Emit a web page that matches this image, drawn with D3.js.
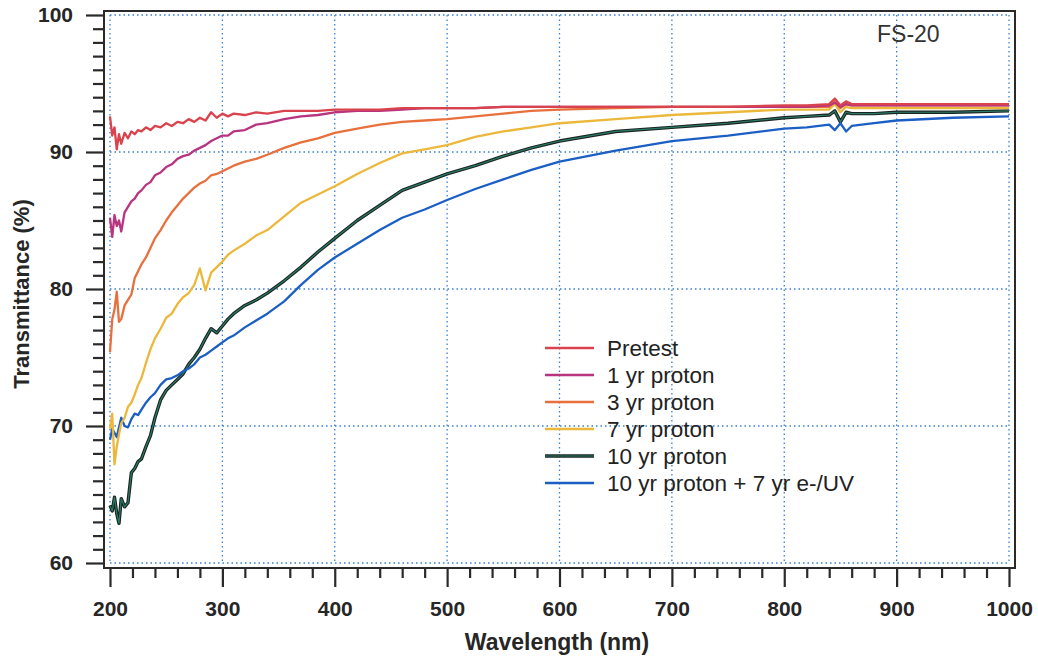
<!DOCTYPE html>
<html><head><meta charset="utf-8">
<script src="https://cdn.jsdelivr.net/npm/d3@7"></script>
<style>
body{margin:0;background:#fff;}
svg{display:block;font-family:"Liberation Sans",Arial,sans-serif;}
</style></head>
<body><svg id="c" width="1038" height="657"></svg>
<script>
const wavelengths = [200,202,204,206,208,210,213,216,219,222,225,228,232,236,240,245,250,255,260,265,270,275,280,285,290,295,300,305,310,320,330,340,355,370,385,400,420,440,460,480,500,525,550,575,600,650,700,750,800,820,840,845,850,855,860,880,900,950,1000];
const pretest = [92.6,91.2,91.8,90.2,91.3,90.6,91.4,91.0,91.5,91.3,91.6,91.5,91.8,91.6,91.9,91.8,92.1,91.9,92.2,92.1,92.4,92.2,92.5,92.3,92.9,92.5,92.8,92.6,92.8,92.7,92.9,92.8,93.0,93.0,93.0,93.1,93.1,93.1,93.2,93.2,93.2,93.2,93.3,93.3,93.3,93.3,93.3,93.3,93.4,93.4,93.5,93.9,93.4,93.7,93.5,93.5,93.5,93.5,93.5];
const proton1 = [85.2,83.8,85.4,84.6,85.0,84.2,85.6,86.0,86.4,86.6,87.0,87.2,87.6,87.8,88.3,88.5,88.9,89.1,89.5,89.7,89.8,90.1,90.3,90.5,90.8,91.0,91.2,91.2,91.5,91.6,92.0,92.1,92.4,92.6,92.7,92.9,93.0,93.0,93.1,93.2,93.2,93.2,93.3,93.3,93.3,93.3,93.3,93.3,93.3,93.3,93.4,93.6,93.3,93.5,93.4,93.4,93.4,93.4,93.4];
const proton3 = [75.4,77.8,78.5,79.8,77.6,77.8,78.8,79.2,79.6,80.8,81.3,81.8,82.3,83.0,83.7,84.3,85.0,85.6,86.1,86.6,87.0,87.4,87.7,87.9,88.3,88.4,88.6,88.8,89.0,89.3,89.5,89.8,90.3,90.7,91.0,91.4,91.7,92.0,92.2,92.3,92.4,92.6,92.8,93.0,93.1,93.2,93.3,93.3,93.3,93.3,93.3,93.7,93.2,93.5,93.4,93.4,93.4,93.4,93.4];
const proton7 = [69.8,70.9,67.2,68.5,69.4,70.2,70.6,71.4,71.7,72.3,73.0,73.5,74.6,75.6,76.4,77.1,77.9,78.2,78.9,79.4,79.7,80.3,81.5,79.9,81.2,81.6,82.0,82.5,82.8,83.3,83.9,84.3,85.3,86.3,86.9,87.5,88.4,89.2,89.9,90.2,90.5,91.1,91.5,91.8,92.1,92.4,92.7,92.9,93.1,93.1,93.1,93.5,92.9,93.3,93.2,93.2,93.2,93.2,93.2];
const proton10 = [64.2,63.8,64.8,63.6,62.9,64.7,64.1,64.4,66.6,66.9,67.4,67.6,68.5,69.3,70.6,71.9,72.6,73.0,73.4,73.8,74.5,75.0,75.6,76.4,77.1,76.8,77.3,77.8,78.2,78.8,79.2,79.7,80.6,81.6,82.7,83.7,85.0,86.1,87.2,87.8,88.4,89.0,89.7,90.3,90.8,91.5,91.8,92.1,92.5,92.6,92.7,93.0,92.2,92.9,92.8,92.8,92.9,92.9,93.0];
const proton10uv = [69.0,69.8,69.5,69.2,69.9,70.6,70.0,69.9,70.5,70.9,70.8,71.2,71.7,72.1,72.4,73.0,73.4,73.5,73.7,74.0,74.2,74.5,75.0,75.2,75.5,75.8,76.1,76.4,76.6,77.2,77.7,78.2,79.1,80.3,81.4,82.3,83.3,84.3,85.2,85.8,86.5,87.3,88.0,88.7,89.3,90.1,90.8,91.2,91.7,91.8,92.0,91.6,92.1,91.5,91.9,92.1,92.3,92.5,92.6];
const seriesNames = ["Pretest","1 yr proton","3 yr proton","7 yr proton","10 yr proton","10 yr proton + 7 yr e-/UV"];
const seriesValues = [pretest, proton1, proton3, proton7, proton10, proton10uv];
const seriesColors = ["#d9434e","#b8347f","#e8703c","#ebb83c","#2a7a68","#1b5fc4"];
const xTicks = [200,300,400,500,600,700,800,900,1000];
const yTicks = [60,70,80,90,100];

const svg = d3.select("#c");
const x = d3.scaleLinear().domain([200,1000]).range([110,1009]);
const y = d3.scaleLinear().domain([60,100]).range([563,15]);
const gridColor = "#3a7fd2";

// grid
const grid = svg.append("g");
grid.selectAll("line.gx").data(xTicks).join("line")
  .attr("x1",d=>x(d)).attr("x2",d=>x(d)).attr("y1",y(100)).attr("y2",y(60))
  .attr("stroke",gridColor).attr("stroke-width",1.3).attr("stroke-dasharray","1.5,3");
grid.selectAll("line.gy").data(yTicks).join("line")
  .attr("y1",d=>y(d)).attr("y2",d=>y(d)).attr("x1",x(200)).attr("x2",x(1000))
  .attr("stroke",gridColor).attr("stroke-width",1.3).attr("stroke-dasharray","1.5,3");

// frame
svg.append("rect").attr("x",104).attr("y",11).attr("width",911).attr("height",557)
  .attr("fill","none").attr("stroke","#2a2a2a").attr("stroke-width",2);

// axes
const yMinor = d3.range(61,100).filter(v=>v%10!==0);
const xMinor = d3.range(220,1000,20).filter(v=>v%100!==0);
function styleAxis(g){
  g.select(".domain").remove();
  g.selectAll(".tick line").attr("stroke","#2a2a2a").attr("stroke-width",2.2);
  g.selectAll(".tick text").attr("fill","#262626").attr("font-size","21px").attr("font-weight","bold")
    .attr("font-family","'Liberation Sans',Arial,sans-serif");
}
svg.append("g").attr("transform","translate(104,0)")
  .call(d3.axisLeft(y).tickValues(yTicks).tickSize(18).tickPadding(13).tickFormat(d3.format("d")))
  .call(styleAxis);
svg.append("g").attr("transform","translate(104,0)")
  .call(d3.axisLeft(y).tickValues(yMinor).tickSize(11).tickFormat(""))
  .call(styleAxis);
svg.append("g").attr("transform","translate(0,568)")
  .call(d3.axisBottom(x).tickValues(xTicks).tickSize(19).tickPadding(14).tickFormat(d3.format("d")))
  .call(styleAxis);
svg.append("g").attr("transform","translate(0,568)")
  .call(d3.axisBottom(x).tickValues(xMinor).tickSize(10).tickFormat(""))
  .call(styleAxis);

// titles
svg.append("text").attr("x",557).attr("y",650).attr("text-anchor","middle")
  .attr("font-size","23px").attr("font-weight","bold").attr("fill","#262626").text("Wavelength (nm)");
svg.append("text").attr("transform","translate(29,294) rotate(-90)").attr("text-anchor","middle")
  .attr("font-size","22px").attr("font-weight","bold").attr("fill","#262626").text("Transmittance (%)");
svg.append("text").attr("x",877).attr("y",42).attr("font-size","23px").attr("fill","#333")
  .text("FS-20");

// lines
const line = d3.line().x((d,i)=>x(wavelengths[i])).y(d=>y(d));
const order = [4,5,3,2,1,0];
const lg = svg.append("g");
order.forEach(i=>{
  if(i===4){
    lg.append("path").attr("d",line(seriesValues[i])).attr("fill","none")
      .attr("stroke","#1c2420").attr("stroke-width",3.4).attr("stroke-linejoin","round");
    lg.append("path").attr("d",line(seriesValues[i])).attr("fill","none")
      .attr("stroke",seriesColors[i]).attr("stroke-width",1.2).attr("stroke-linejoin","round");
  } else {
    lg.append("path").attr("d",line(seriesValues[i])).attr("fill","none")
      .attr("stroke",seriesColors[i]).attr("stroke-width",2.3).attr("stroke-linejoin","round");
  }
});

// legend
const leg = svg.append("g");
seriesNames.forEach((n,i)=>{
  const yy = 348 + i*27;
  if(i===4){
    leg.append("line").attr("x1",545).attr("x2",594).attr("y1",yy).attr("y2",yy)
      .attr("stroke","#1c2420").attr("stroke-width",3.4);
    leg.append("line").attr("x1",545).attr("x2",594).attr("y1",yy).attr("y2",yy)
      .attr("stroke",seriesColors[i]).attr("stroke-width",1.2);
  } else {
    leg.append("line").attr("x1",545).attr("x2",594).attr("y1",yy).attr("y2",yy)
      .attr("stroke",seriesColors[i]).attr("stroke-width",2.3);
  }
  leg.append("text").attr("x",607).attr("y",yy+8).attr("font-size","22.5px").attr("fill","#222").text(n);
});
</script></body></html>
